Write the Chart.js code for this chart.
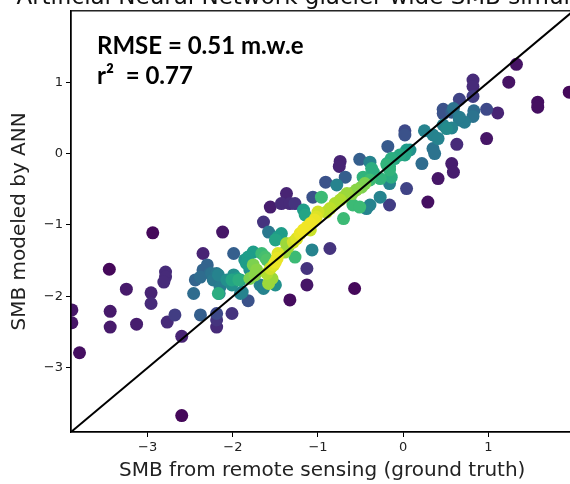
<!DOCTYPE html>
<html lang="en">
<head>
    <meta charset="UTF-8">
    <title>ANN glacier-wide SMB simulation</title>
    <script src="https://cdn.jsdelivr.net/npm/chart.js"></script>
    <style>
        html, body { margin: 0; padding: 0; overflow: hidden; background: #fff; }
        canvas { display: block; }
    </style>
</head>
<body>
    <canvas id="smbChart" width="580" height="484"></canvas>
    <script>
        // SMB from remote sensing (x) vs SMB modeled by ANN (y), m w.e.
        const groundTruth = [
            1.33, 1.24, 1.95, 1.58, 1.58, 0.82, 0.82, 0.98, 1.11, 0.63,
            0.57, 0.59, 0.41, 0.29, -0.57, -1.33, -1.13, -0.74, -0.75, -1.37,
            -1.43, -1.33, -1.27, -1.56, -1.64, -2.12, -2.94, -2.35, -3.45, -2.79,
            -2.79, -2.81, -3.25, -2.96, -2.96, -3.89, -3.89, -3.44, -3.44, -3.13,
            -2.77, -2.68, -2.60, -3.80, -2.60, -2.19, -2.19, -2.19, -2.01, -2.38,
            -1.82, -1.13, -0.86, -1.06, -0.16, 0.04, 0.47, 0.47, 0.66, 0.82,
            0.98, 0.02, 0.02, -0.18, -0.91, -0.51, -0.68, 0.22, -1.99, -2.46,
            0.66, 0.72, 0.47, 0.57, 0.51, 0.25, 0.35, 0.41, 0.35, 0.37,
            0.83, 0.82, 0.57, 0.59, 0.66, 0.04, 0.02, -0.14, -0.19, -0.16,
            0.08, -0.04, -0.10, -0.39, -0.37, -0.35, -0.19, -0.16, -0.14, -0.47,
            -0.39, -0.27, -0.16, -0.78, -0.45, -0.49, -0.55, -0.60, -0.27, -0.39,
            -0.43, -0.59, -0.51, -0.96, -0.66, -0.70, -0.74, -0.80, -0.86, -0.90,
            -0.70, -1.17, -1.15, -1.00, -1.02, -1.04, -1.09, -1.13, -1.17, -1.21,
            -1.25, -1.29, -1.09, -1.58, -1.43, -1.47, -1.50, -1.37, -1.35, -1.39,
            -1.27, -1.07, -1.47, -1.48, -1.50, -1.52, -1.56, -1.76, -1.82, -1.86,
            -1.66, -1.62, -1.60, -1.76, -1.72, -1.74, -1.80, -1.60, -1.54, -1.58,
            -1.50, -2.30, -2.35, -2.27, -2.19, -2.15, -2.12, -1.99, -1.95, -1.91,
            -2.01, -2.44, -2.38, -2.25, -2.23, -2.17, -2.15, -2.16, -2.07, -2.01,
            -1.93, -1.89, -1.84, -2.17, -1.91, -1.80, -1.68, -1.64
        ];
        const modeled = [
            1.25, 1.00, 0.86, 0.72, 0.65, 1.03, 0.94, 0.21, 0.57, 0.13,
            -0.14, -0.26, -0.35, -0.68, -1.89, -2.05, -1.84, -0.11, -0.18, -0.56,
            -0.70, -0.70, -0.70, -0.75, -0.96, -1.10, -1.11, -1.40, -1.62, -1.66,
            -1.73, -1.80, -1.90, -1.95, -2.10, -2.19, -2.37, -2.21, -2.43, -2.39,
            -2.36, -2.26, -2.56, -2.79, -3.67, -2.24, -2.33, -2.43, -2.24, -2.26,
            -2.06, -1.61, -1.33, -0.61, -0.72, -0.49, 0.62, 0.56, 0.76, 0.80,
            0.62, 0.32, 0.26, 0.10, -0.40, -0.08, -0.33, -0.14, -1.40, -1.96,
            0.47, 0.44, 0.40, 0.36, 0.35, 0.32, 0.26, 0.21, 0.07, 0.00,
            0.60, 0.52, 0.58, 0.63, 0.51, 0.05, -0.02, -0.07, -0.14, -0.18,
            0.05, -0.02, -0.07, -0.12, -0.21, -0.26, -0.16, -0.23, -0.33, -0.33,
            -0.37, -0.35, -0.42, -0.44, -0.42, -0.47, -0.51, -0.56, -0.61, -0.72,
            -0.77, -0.72, -0.75, -0.61, -0.56, -0.61, -0.65, -0.70, -0.77, -0.82,
            -0.91, -0.79, -0.86, -0.82, -0.89, -0.93, -0.98, -1.03, -1.07, -1.12,
            -1.19, -1.24, -1.07, -1.10, -1.12, -1.17, -1.21, -1.26, -1.31, -1.38,
            -1.45, -1.35, -1.40, -1.47, -1.52, -1.56, -1.61, -1.38, -1.45, -1.49,
            -1.40, -1.45, -1.49, -1.56, -1.63, -1.70, -1.75, -1.68, -1.75, -1.82,
            -1.84, -1.56, -1.63, -1.68, -1.68, -1.75, -1.80, -1.70, -1.75, -1.77,
            -1.84, -1.77, -1.73, -1.68, -1.77, -1.70, -1.87, -1.96, -1.77, -1.77,
            -1.77, -1.94, -1.54, -1.96, -1.96, -1.63, -1.84, -1.89
        ];
        // relative point density (0 = sparse, 1 = dense), coloured with viridis
        const density = [
            .05, .05, .02, .04, .04, .12, .12, .06, .10, .12,
            .08, .08, .06, .04, .02, .03, .06, .10, .10, .10,
            .12, .12, .15, .08, .15, .06, .02, .10, .02, .12,
            .12, .12, .07, .10, .12, .06, .06, .07, .07, .08,
            .12, .18, .10, .04, .02, .22, .15, .12, .15, .30,
            .25, .15, .15, .25, .18, .20, .25, .25, .20, .18,
            .22, .22, .25, .28, .25, .30, .30, .35, .30, .35,
            .42, .42, .45, .45, .48, .45, .45, .45, .38, .38,
            .35, .38, .30, .38, .42, .55, .58, .62, .62, .62,
            .50, .60, .60, .45, .62, .62, .65, .65, .62, .65,
            .68, .65, .45, .45, .80, .80, .82, .82, .45, .45,
            .45, .68, .68, .68, .85, .85, .88, .88, .90, .90,
            .68, .55, .58, .93, .95, .97, .98, .98, .98, .97,
            .95, .93, .92, .40, .55, .55, .58, .85, .85, .85,
            .68, .45, .95, .97, .97, .95, .93, .55, .55, .52,
            .68, .70, .72, .80, .82, .82, .80, .88, .85, .85,
            .50, .32, .32, .35, .40, .40, .40, .50, .55, .58,
            .50, .32, .35, .38, .40, .45, .42, .45, .50, .58,
            .62, .45, .55, .62, .45, .50, .45, .45
        ];

        const xTicks = [-3, -2, -1, 0, 1];
        const yTicks = [-3, -2, -1, 0, 1];
        const axisMin = -3.9;
        const axisMax = 2.0;

        const chartTitle = 'Artificial Neural Network glacier-wide SMB simulation';
        const xLabel = 'SMB from remote sensing (ground truth)';
        const yLabel = 'SMB modeled by ANN';
        const statText = ['RMSE = 0.51 m.w.e', 'r\u00B2  = 0.77'];

        const viridis = ['#440154', '#482878', '#3e4a89', '#31688e', '#26828e',
                         '#1f9e89', '#35b779', '#6ece58', '#b5de2b', '#fde725'];

        function hexToRgb(h) {
            return [1, 3, 5].map(i => parseInt(h.slice(i, i + 2), 16));
        }

        function viridisColor(t) {
            t = Math.min(1, Math.max(0, t));
            let pos = t * (viridis.length - 1);
            let i = Math.min(Math.floor(pos), viridis.length - 2);
            let f = pos - i;
            let a = hexToRgb(viridis[i]), b = hexToRgb(viridis[i + 1]);
            let c = a.map((v, k) => Math.round(v + (b[k] - v) * f));
            return `rgb(${c[0]},${c[1]},${c[2]})`;
        }

        // densest points on top, like a density-sorted scatter
        let order = density.map((d, i) => i).sort((a, b) => density[a] - density[b]);
        let points = order.map(i => ({ x: groundTruth[i], y: modeled[i] }));
        let colors = order.map(i => viridisColor(density[i]));

        function tickText(v) {
            return v < 0 ? '\u2212' + Math.abs(v) : String(v);
        }

        const framePlugin = {
            id: 'frame',
            afterDraw(chart) {
                let ctx = chart.ctx;
                let a = chart.chartArea;
                ctx.save();
                ctx.strokeStyle = '#000';
                ctx.lineWidth = 1.3;
                ctx.strokeRect(a.left, a.top, a.right - a.left, a.bottom - a.top);

                // title sits mostly above the visible window, as in the source figure
                ctx.fillStyle = '#111';
                ctx.font = '23px "DejaVu Sans"';
                ctx.textAlign = 'center';
                ctx.textBaseline = 'alphabetic';
                ctx.fillText(chartTitle, (a.left + a.right) / 2, a.top - 7);

                ctx.fillStyle = '#000';
                ctx.textAlign = 'left';
                ctx.font = 'bold 24px Lato';
                ctx.fillText(statText[0], a.left + 26, a.top + 43);
                ctx.fillText(statText[1], a.left + 26, a.top + 73);
                ctx.restore();
            }
        };

        let ctx = document.getElementById('smbChart').getContext('2d');
        new Chart(ctx, {
            type: 'scatter',
            data: {
                datasets: [
                    {
                        type: 'line',
                        data: [{ x: axisMin, y: axisMin }, { x: axisMax, y: axisMax }],
                        borderColor: '#000',
                        borderWidth: 2,
                        pointRadius: 0,
                        order: 0
                    },
                    {
                        data: points,
                        backgroundColor: colors,
                        borderWidth: 0,
                        pointRadius: 6.5,
                        pointHoverRadius: 6.5,
                        order: 1
                    }
                ]
            },
            options: {
                responsive: false,
                animation: false,
                layout: { padding: { top: 10.5, right: 6, left: 0, bottom: 0 } },
                plugins: { legend: { display: false }, tooltip: { enabled: false } },
                scales: {
                    x: {
                        type: 'linear',
                        min: axisMin,
                        max: axisMax,
                        afterBuildTicks: s => { s.ticks = xTicks.map(v => ({ value: v })); },
                        afterFit: s => { s.height = 52; },
                        grid: { drawOnChartArea: false, tickLength: 5, color: '#000' },
                        border: { color: '#000', width: 1.3 },
                        ticks: {
                            callback: tickText, autoSkip: false, maxRotation: 0, padding: 3,
                            color: '#222', font: { family: 'DejaVu Sans', size: 13 }
                        },
                        title: {
                            display: true, text: xLabel, color: '#222',
                            font: { family: 'DejaVu Sans', size: 20 },
                            padding: { top: 0, bottom: 1 }
                        }
                    },
                    y: {
                        type: 'linear',
                        min: axisMin,
                        max: axisMax,
                        afterBuildTicks: s => { s.ticks = yTicks.map(v => ({ value: v })); },
                        afterFit: s => { s.width = 71; },
                        grid: { drawOnChartArea: false, tickLength: 5, color: '#000' },
                        border: { color: '#000', width: 1.3 },
                        ticks: {
                            callback: tickText, autoSkip: false, padding: 3,
                            color: '#222', font: { family: 'DejaVu Sans', size: 13 }
                        },
                        title: {
                            display: true, text: yLabel, color: '#222',
                            font: { family: 'DejaVu Sans', size: 20 },
                            padding: { top: 8, bottom: 0 }
                        }
                    }
                }
            },
            plugins: [framePlugin]
        });
    </script>
</body>
</html>
